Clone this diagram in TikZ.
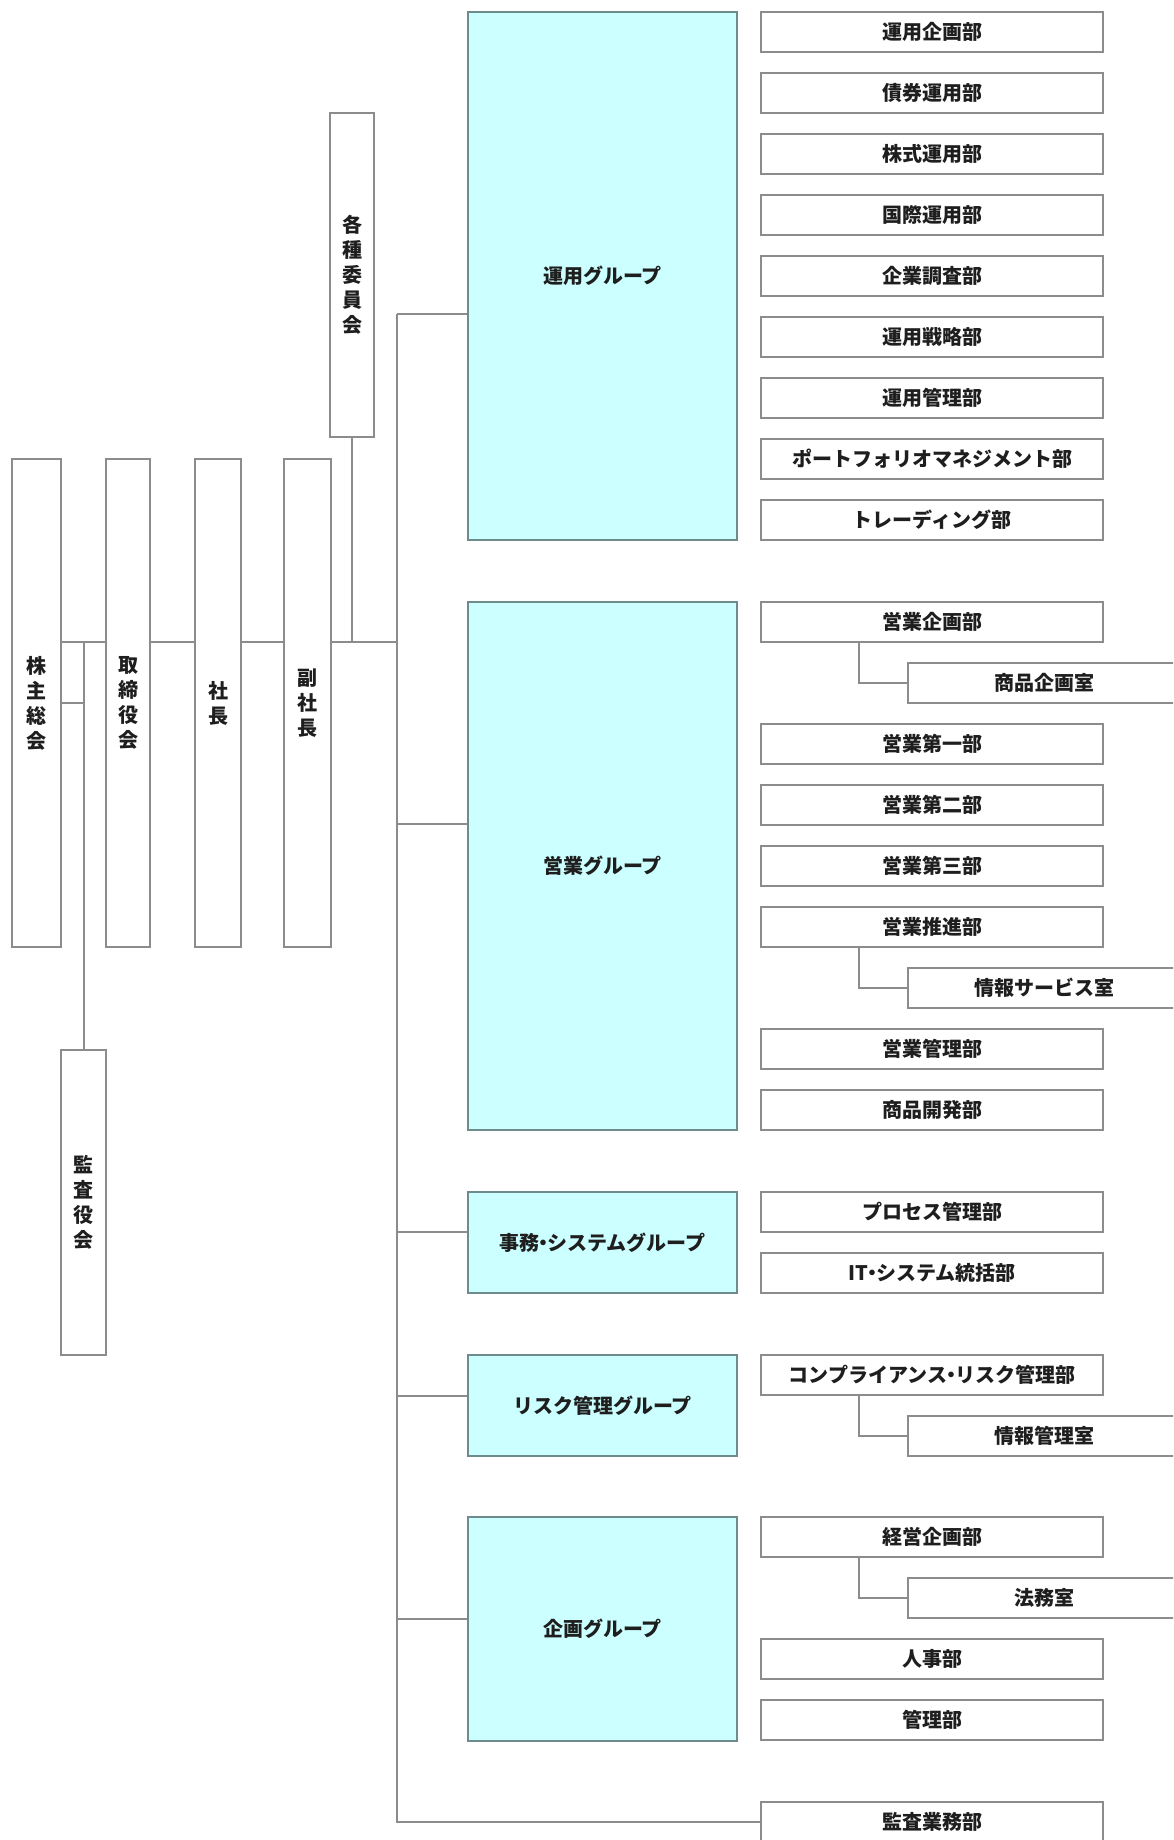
\documentclass[tikz,border=0pt]{standalone}
\usepackage{fontspec}
\setmainfont{Noto Sans CJK JP}
\definecolor{lc}{RGB}{140,140,140}
\definecolor{gc}{RGB}{110,140,140}
\definecolor{gf}{RGB}{204,255,255}
\definecolor{tc}{RGB}{30,30,30}
\newcommand\myfs{\bfseries\fontsize{10}{12.5}\selectfont}
\newcommand\mydot{\kern-0.3em・\kern-0.3em}
\begin{document}
\begin{tikzpicture}[x=0.5pt,y=-0.5pt,
  ln/.style={draw=lc,line width=1pt},
  bx/.style={draw=lc,fill=white,line width=1pt,inner sep=0pt,text=tc,font=\myfs},
  vb/.style={bx,align=center,minimum height=244pt},
  dept/.style={bx,minimum width=171pt,minimum height=20pt},
  subd/.style={bx,minimum width=136pt,minimum height=20pt},
  grp/.style={draw=gc,fill=gf,line width=1pt,inner sep=0pt,text=tc,font=\myfs,minimum width=134.5pt}]
\useasboundingbox (0,0) rectangle (1173,1840);
\clip (0,0) rectangle (1173,1840);
\fill[white] (0,0) rectangle (1173,1840);

% coordinates
\coordinate (ym) at (0,642);
\coordinate (yk) at (0,703);
\coordinate (tr) at (397,0);
\coordinate (y1) at (0,314);
\coordinate (y2) at (0,824);
\coordinate (y3) at (0,1232);
\coordinate (y4) at (0,1396);
\coordinate (y5) at (0,1619);
\coordinate (sx) at (859,0);

% left column
\node[vb,minimum width=24.5pt] (kabu) at (36.5,703) {株\\主\\総\\会};
\node[vb,minimum width=22pt] (tori) at (128,703) {取\\締\\役\\会};
\node[vb,minimum width=23pt] (shacho) at (218,703) {社\\長};
\node[vb,minimum width=23.5pt] (fuku) at (307.5,703) {副\\社\\長};
\node[bx,align=center,minimum width=22pt,minimum height=162pt] (iin) at (352,275) {各\\種\\委\\員\\会};
\node[bx,align=center,minimum width=22.5pt,minimum height=152.5pt] (kansa) at (83.5,1202.5) {監\\査\\役\\会};

% groups
\node[grp,minimum height=264pt] (g1) at (602.5,276) {運用グループ};
\node[grp,minimum height=264pt] (g2) at (602.5,866) {営業グループ};
\node[grp,minimum height=50.5pt] (g3) at (602.5,1242.5) {事務\mydot システムグループ};
\node[grp,minimum height=50.5pt] (g4) at (602.5,1405.5) {リスク管理グループ};
\node[grp,minimum height=112pt] (g5) at (602.5,1629) {企画グループ};

% departments
\node[dept] (d11) at (932,32) {運用企画部};
\node[dept] (d12) at (932,93) {債券運用部};
\node[dept] (d13) at (932,154) {株式運用部};
\node[dept] (d14) at (932,215) {国際運用部};
\node[dept] (d15) at (932,276) {企業調査部};
\node[dept] (d16) at (932,337) {運用戦略部};
\node[dept] (d17) at (932,398) {運用管理部};
\node[dept] (d18) at (932,459) {ポートフォリオマネジメント部};
\node[dept] (d19) at (932,520) {トレーディング部};

\node[dept] (d21) at (932,622) {営業企画部};
\node[subd] (s21) at (1044,683) {商品企画室};
\node[dept] (d22) at (932,744) {営業第一部};
\node[dept] (d23) at (932,805) {営業第二部};
\node[dept] (d24) at (932,866) {営業第三部};
\node[dept] (d25) at (932,927) {営業推進部};
\node[subd] (s25) at (1044,988) {情報サービス室};
\node[dept] (d26) at (932,1049) {営業管理部};
\node[dept] (d27) at (932,1110) {商品開発部};

\node[dept] (d31) at (932,1212) {プロセス管理部};
\node[dept] (d32) at (932,1273) {IT\mydot システム統括部};

\node[dept] (d41) at (932,1375) {コンプライアンス\mydot リスク管理部};
\node[subd] (s41) at (1044,1436) {情報管理室};

\node[dept] (d51) at (932,1537) {経営企画部};
\node[subd] (s51) at (1044,1598) {法務室};
\node[dept] (d52) at (932,1659) {人事部};
\node[dept] (d53) at (932,1720) {管理部};

\node[dept] (audit) at (932,1822) {監査業務部};

% connectors
\draw[ln] (kabu.east|-ym) -- (tori.west|-ym);
\draw[ln] (tori.east|-ym) -- (shacho.west|-ym);
\draw[ln] (shacho.east|-ym) -- (fuku.west|-ym);
\draw[ln] (fuku.east|-ym) -- (tr|-ym);
\draw[ln] (iin.south) -- (iin.south|-ym);
\draw[ln] (kansa.north|-ym) -- (kansa.north);
\draw[ln] (kabu.east|-yk) -- (kansa.north|-yk);
\draw[ln] (tr|-y1) |- (audit.west);
\draw[ln] (tr|-y1) -- (g1.west|-y1);
\draw[ln] (tr|-y2) -- (g2.west|-y2);
\draw[ln] (tr|-y3) -- (g3.west|-y3);
\draw[ln] (tr|-y4) -- (g4.west|-y4);
\draw[ln] (tr|-y5) -- (g5.west|-y5);
\draw[ln] (d21.south-|sx) |- (s21.west);
\draw[ln] (d25.south-|sx) |- (s25.west);
\draw[ln] (d41.south-|sx) |- (s41.west);
\draw[ln] (d51.south-|sx) |- (s51.west);
\end{tikzpicture}
\end{document}
